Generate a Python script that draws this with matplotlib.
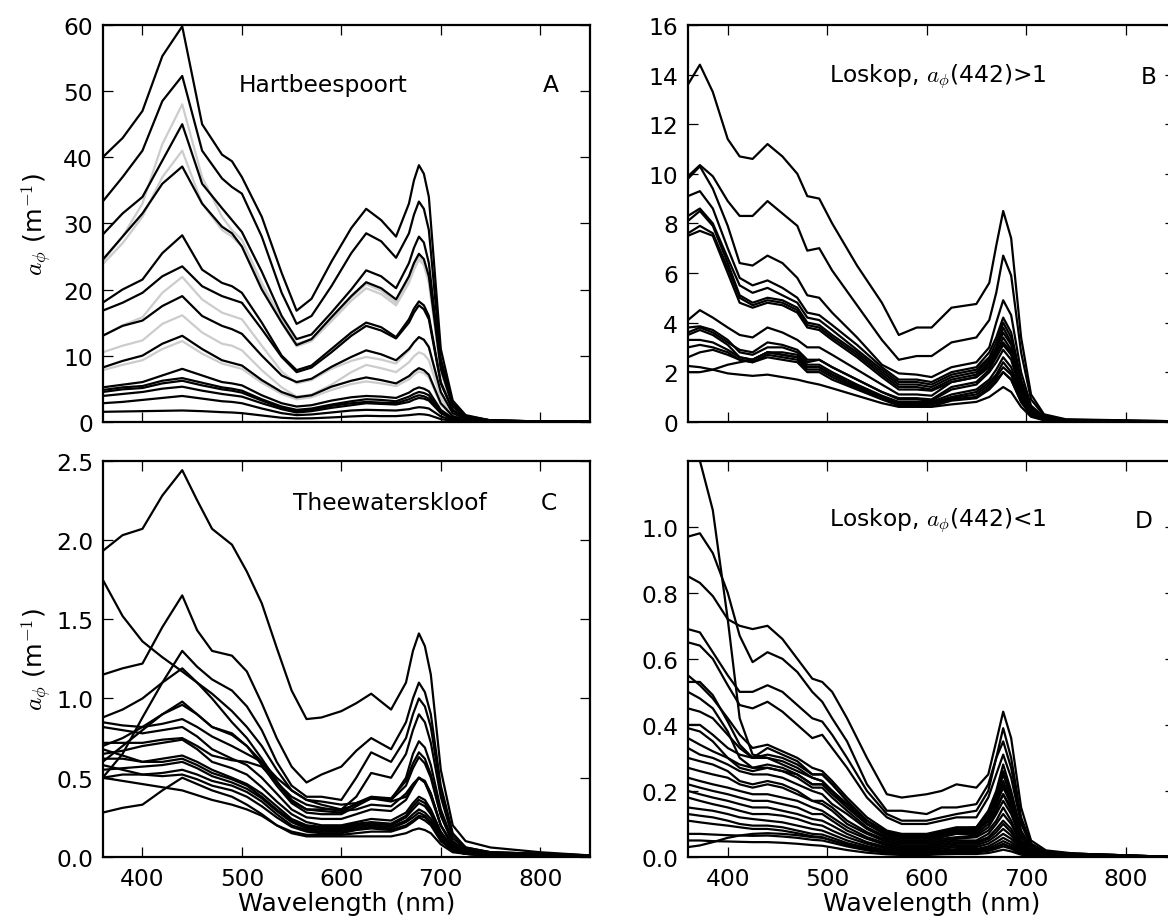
import matplotlib
matplotlib.use('Agg')
from matplotlib import pyplot as plt

# ---- panel A: Hartbeespoort ----
wl_a = [360, 380, 400, 420, 440, 460, 480, 490, 500, 520, 540, 555, 570, 590,
        610, 625, 640, 655, 668, 673, 678, 683, 688, 700, 712, 725, 750, 800, 850]

hb1 = [40, 42.9, 47, 55.3, 59.8, 45, 40.4, 39.4, 37, 31, 22.5, 16.8, 18.6, 24.2, 29.3, 32.2, 30.5, 28, 33, 36.5, 38.8, 37.5, 34, 11, 3.2, 1.0, 0.2, 0.05, 0]
hb2 = [33.3, 37, 41, 48.5, 52.3, 41, 36.8, 35.5, 34.5, 28, 19.5, 14.8, 16, 20.5, 25.5, 28.5, 27.3, 24.8, 28.5, 31.3, 33.3, 32.2, 29, 9.5, 2.8, 0.9, 0.2, 0.05, 0]
hb3 = [28.3, 31.5, 34, 39.5, 45, 36, 32.3, 30.5, 28.7, 22.7, 16, 12.5, 13.2, 16.5, 20, 22.9, 22, 20.2, 24, 26.3, 28, 27.1, 24, 8.5, 2.5, 0.8, 0.2, 0.05, 0]
hb4 = [24.5, 28, 31.5, 36, 38.6, 33, 29.5, 28.5, 26.5, 20, 15, 11.6, 12.5, 15.8, 19, 21.1, 20.2, 18.5, 22, 24, 25.4, 24.6, 22, 8, 2.3, 0.7, 0.2, 0.05, 0]
hb5 = [18, 20, 21.5, 25.5, 28.2, 23, 21, 20.5, 19.5, 15, 10, 7.8, 8.5, 11, 13.5, 15, 14.3, 12.8, 15.5, 17.1, 18.2, 17.6, 16, 6, 1.8, 0.6, 0.15, 0.04, 0]
hb6 = [16.8, 18, 19.5, 22, 23.5, 20.5, 19, 18.5, 18, 14, 9.8, 7.5, 8.2, 10.5, 13, 14.5, 13.8, 12.6, 15, 16.5, 17.6, 17, 15.5, 5.8, 1.7, 0.55, 0.15, 0.04, 0]
hb7 = [13, 14.5, 15.3, 17.5, 19, 16, 14.5, 14, 13.3, 10, 7, 6, 6.5, 8.3, 9.8, 10.8, 10.2, 9.3, 11, 12, 12.8, 12.4, 11.3, 4.5, 1.3, 0.45, 0.1, 0.03, 0]
hb8 = [8.2, 9.2, 10, 11.8, 13, 11, 9.3, 8.9, 8.5, 6.3, 4.5, 3.7, 4, 5.3, 6.2, 6.7, 6.3, 5.8, 6.9, 7.6, 8.1, 7.8, 7.1, 2.8, 0.85, 0.3, 0.08, 0.02, 0]
hb9 = [5.2, 5.6, 6, 7, 8, 7, 6, 5.8, 5.5, 4, 2.8, 2.3, 2.5, 3.2, 3.7, 3.9, 3.8, 3.6, 4.4, 4.9, 5.2, 5.0, 4.6, 1.8, 0.55, 0.2, 0.05, 0.02, 0]
hb10 = [4.8, 5.2, 5.4, 6.2, 6.6, 5.9, 5.2, 5, 4.7, 3.4, 2.3, 1.8, 2, 2.6, 3.1, 3.4, 3.3, 3.1, 3.8, 4.2, 4.5, 4.35, 4, 1.6, 0.5, 0.2, 0.05, 0.02, 0]
hb11 = [4.5, 4.9, 5.1, 5.8, 6.2, 5.5, 4.9, 4.7, 4.4, 3.2, 2.1, 1.6, 1.8, 2.4, 2.8, 3, 2.9, 2.8, 3.4, 3.75, 4, 3.85, 3.5, 1.4, 0.45, 0.15, 0.04, 0.01, 0]
hb12 = [3.9, 4.2, 4.5, 5, 5.3, 4.7, 4.2, 4, 3.8, 2.8, 1.9, 1.4, 1.6, 2.1, 2.5, 2.8, 2.7, 2.6, 3, 3.35, 3.6, 3.5, 3.2, 1.3, 0.4, 0.14, 0.04, 0.01, 0]
hb13 = [2.8, 3, 3.3, 3.6, 3.9, 3.5, 3.1, 3, 2.8, 2, 1.3, 1, 1.1, 1.4, 1.7, 1.8, 1.75, 1.7, 1.9, 2.08, 2.2, 2.14, 2, 0.8, 0.25, 0.1, 0.03, 0.01, 0]
hb14 = [1.5, 1.55, 1.6, 1.65, 1.7, 1.6, 1.45, 1.4, 1.3, 0.95, 0.6, 0.5, 0.52, 0.65, 0.8, 0.9, 0.85, 0.85, 1, 1.08, 1.15, 1.11, 1, 0.4, 0.12, 0.05, 0.02, 0.01, 0]

# grey spectra (second set)
hg1 = [24.2, 28, 33, 42, 48, 37, 31, 29, 27.5, 21, 15.5, 11.8, 12.5, 15.5, 18.8, 20.8, 19.8, 18, 21.5, 23.5, 25, 24.2, 21.5, 7.8, 2.2, 0.7, 0.2, 0.05, 0]
hg2 = [23.8, 27, 31, 37, 41, 33, 29, 28, 26.5, 20.5, 15, 11.4, 12.2, 15.2, 18.3, 20.2, 19.3, 17.6, 21, 23, 24.5, 23.7, 21, 7.6, 2.2, 0.7, 0.2, 0.05, 0]
hg3 = [13, 14.6, 15.8, 19.5, 21.9, 18.5, 16.5, 16, 15.5, 11.5, 7.6, 5.8, 6.3, 8, 9.2, 9.8, 9.4, 8.8, 10.8, 12, 12.8, 12.4, 11.2, 4.4, 1.3, 0.45, 0.1, 0.03, 0]
hg4 = [10.5, 11.5, 12.3, 14.8, 16.1, 13.5, 11.8, 11.5, 10.8, 7.8, 5.2, 3.8, 4.1, 5.6, 7.5, 8.6, 8.1, 7.5, 9, 9.9, 10.5, 10.2, 9.3, 3.6, 1.1, 0.4, 0.1, 0.03, 0]
hg5 = [7.8, 8.6, 9.3, 11, 12.2, 10.3, 8.8, 8.4, 8, 5.9, 4.2, 3.4, 3.7, 4.8, 5.7, 6.1, 5.8, 5.4, 6.4, 7.1, 7.6, 7.35, 6.7, 2.6, 0.8, 0.28, 0.07, 0.02, 0]

# ---- panel B: Loskop, a(442) > 1 ----
wl_b = [360, 372, 385, 400, 412, 425, 440, 455, 470, 480, 492, 505, 530, 555,
        572, 590, 605, 625, 650, 663, 670, 677, 685, 695, 705, 718, 740, 850]

lb1 = [13.6, 14.4, 13.3, 11.4, 10.7, 10.6, 11.2, 10.7, 10.0, 9.1, 9.0, 8.0, 6.3, 4.8, 3.5, 3.8, 3.8, 4.6, 4.75, 5.6, 7.1, 8.5, 7.4, 3.4, 1.1, 0.3, 0.1, 0.02]
lb2 = [9.9, 10.35, 9.9, 8.9, 8.3, 8.3, 8.9, 8.4, 7.9, 6.9, 7.0, 6.1, 4.7, 3.3, 2.5, 2.65, 2.65, 3.2, 3.4, 4.1, 5.2, 6.7, 5.9, 2.8, 0.9, 0.25, 0.08, 0.02]
lb3 = [9.8, 10.3, 9.4, 7.9, 6.4, 6.3, 6.7, 6.4, 5.8, 5.1, 5.0, 4.4, 3.4, 2.3, 1.95, 1.9, 1.8, 2.2, 2.4, 3.0, 4.0, 4.9, 4.3, 2.0, 0.65, 0.2, 0.06, 0.01]
lb4 = [9.1, 9.3, 8.6, 7.0, 5.8, 5.5, 5.7, 5.4, 5.0, 4.4, 4.3, 3.9, 3.1, 2.2, 1.7, 1.7, 1.6, 2.0, 2.2, 2.8, 3.4, 4.2, 3.6, 1.7, 0.55, 0.15, 0.05, 0.01]
lb5 = [8.3, 8.6, 8.0, 6.6, 5.5, 5.2, 5.4, 5.1, 4.8, 4.2, 4.1, 3.7, 2.9, 2.1, 1.6, 1.6, 1.5, 1.9, 2.1, 2.6, 3.2, 4.0, 3.4, 1.6, 0.5, 0.15, 0.05, 0.01]
lb6 = [8.1, 8.5, 7.9, 6.4, 5.1, 4.8, 5.0, 4.9, 4.6, 4.0, 3.9, 3.5, 2.8, 2.0, 1.5, 1.5, 1.4, 1.8, 2.0, 2.5, 3.0, 3.8, 3.2, 1.5, 0.48, 0.14, 0.05, 0.01]
lb7 = [7.6, 7.9, 7.6, 6.2, 5.0, 4.7, 4.9, 4.8, 4.5, 3.9, 3.8, 3.4, 2.7, 1.9, 1.4, 1.4, 1.3, 1.7, 1.9, 2.4, 2.9, 3.6, 3.1, 1.4, 0.45, 0.13, 0.04, 0.01]
lb8 = [7.5, 7.7, 7.5, 6.0, 4.8, 4.6, 4.8, 4.7, 4.4, 3.8, 3.7, 3.3, 2.6, 1.8, 1.3, 1.3, 1.25, 1.6, 1.8, 2.2, 2.7, 3.4, 2.9, 1.3, 0.42, 0.12, 0.04, 0.01]
lb9 = [4.1, 4.5, 4.2, 3.8, 3.5, 3.4, 3.8, 3.6, 3.3, 3.0, 3.0, 2.7, 2.1, 1.5, 1.1, 1.1, 1.05, 1.6, 1.8, 2.3, 2.8, 3.2, 2.8, 1.3, 0.42, 0.12, 0.04, 0.01]
lb10 = [3.8, 3.85, 3.7, 3.3, 2.8, 2.7, 3.0, 3.0, 2.8, 2.4, 2.5, 2.2, 1.7, 1.2, 0.9, 0.9, 0.85, 1.3, 1.5, 2.0, 2.4, 2.9, 2.5, 1.2, 0.38, 0.1, 0.03, 0.01]
lb11 = [3.6, 3.8, 3.6, 3.2, 2.9, 2.8, 3.2, 3.1, 2.9, 2.5, 2.5, 2.2, 1.7, 1.2, 0.95, 0.95, 0.9, 1.4, 1.6, 2.1, 2.6, 3.1, 2.7, 1.3, 0.4, 0.1, 0.03, 0.01]
lb12 = [3.5, 3.7, 3.5, 3.1, 2.6, 2.5, 2.8, 2.8, 2.7, 2.3, 2.3, 2.0, 1.5, 1.05, 0.8, 0.8, 0.8, 1.1, 1.3, 1.7, 2.1, 2.6, 2.2, 1.1, 0.35, 0.1, 0.03, 0.01]
lb13 = [3.3, 3.3, 3.2, 2.9, 2.6, 2.5, 2.8, 2.7, 2.6, 2.2, 2.2, 1.9, 1.45, 1.0, 0.75, 0.75, 0.75, 1.0, 1.2, 1.6, 1.9, 2.4, 2.0, 1.0, 0.3, 0.09, 0.03, 0.01]
lb14 = [3.0, 3.1, 3.0, 2.8, 2.5, 2.4, 2.7, 2.6, 2.5, 2.1, 2.1, 1.8, 1.35, 0.95, 0.7, 0.7, 0.7, 0.95, 1.1, 1.5, 1.8, 2.2, 1.9, 0.9, 0.28, 0.08, 0.03, 0.01]
lb15 = [2.6, 2.8, 2.9, 2.7, 2.5, 2.4, 2.6, 2.5, 2.4, 2.0, 2.0, 1.7, 1.3, 0.9, 0.65, 0.65, 0.62, 0.85, 0.95, 1.3, 1.6, 2.0, 1.7, 0.8, 0.25, 0.07, 0.02, 0.01]
lb16 = [2.25, 2.2, 2.1, 1.95, 1.9, 1.85, 1.9, 1.8, 1.7, 1.6, 1.5, 1.35, 1.05, 0.75, 0.6, 0.6, 0.6, 0.7, 0.8, 1.0, 1.2, 1.4, 1.2, 0.6, 0.2, 0.06, 0.02, 0.01]
lb17 = [2.0, 2.0, 2.1, 2.3, 2.4, 2.5, 2.8, 2.7, 2.6, 2.2, 2.2, 1.9, 1.4, 1.0, 0.7, 0.7, 0.7, 0.9, 1.0, 1.4, 1.7, 2.0, 1.7, 0.8, 0.25, 0.07, 0.02, 0.01]

# ---- panel C: Theewaterskloof ----
wl_c = [360, 380, 400, 420, 440, 455, 470, 490, 505, 520, 535, 550, 565, 580,
        600, 615, 630, 650, 665, 672, 678, 684, 690, 700, 712, 725, 750, 800, 850]

tw1 = [1.93, 2.03, 2.07, 2.28, 2.44, 2.25, 2.07, 1.97, 1.8, 1.6, 1.32, 1.05, 0.87, 0.88, 0.92, 0.97, 1.03, 0.93, 1.1, 1.3, 1.41, 1.33, 1.15, 0.55, 0.2, 0.1, 0.06, 0.03, 0.01]
tw2 = [1.15, 1.19, 1.22, 1.45, 1.65, 1.43, 1.3, 1.27, 1.17, 0.97, 0.75, 0.57, 0.47, 0.52, 0.57, 0.67, 0.75, 0.68, 0.85, 1.0, 1.1, 1.04, 0.9, 0.45, 0.15, 0.06, 0.03, 0.02, 0.01]
tw3 = [1.75, 1.52, 1.36, 1.26, 1.17, 1.1, 1.03, 0.92, 0.82, 0.7, 0.55, 0.42, 0.36, 0.35, 0.33, 0.34, 0.37, 0.35, 0.38, 0.45, 0.5, 0.47, 0.38, 0.2, 0.08, 0.04, 0.02, 0.01, 0.0]
tw4 = [0.5, 0.65, 0.88, 1.1, 1.3, 1.2, 1.12, 1.05, 0.95, 0.8, 0.6, 0.45, 0.38, 0.38, 0.36, 0.5, 0.66, 0.6, 0.75, 0.9, 1.0, 0.95, 0.82, 0.42, 0.14, 0.06, 0.03, 0.02, 0.01]
tw5 = [0.88, 0.93, 1.0, 1.1, 1.19, 1.1, 1.0, 0.85, 0.75, 0.62, 0.48, 0.35, 0.3, 0.3, 0.3, 0.38, 0.53, 0.5, 0.65, 0.8, 0.9, 0.85, 0.72, 0.38, 0.12, 0.05, 0.03, 0.02, 0.01]
tw6 = [0.6, 0.7, 0.8, 0.9, 0.98, 0.9, 0.82, 0.77, 0.7, 0.58, 0.45, 0.34, 0.28, 0.27, 0.27, 0.32, 0.37, 0.36, 0.5, 0.65, 0.73, 0.69, 0.58, 0.3, 0.1, 0.04, 0.02, 0.01, 0.0]
tw7 = [0.7, 0.75, 0.82, 0.9, 0.96, 0.9, 0.82, 0.78, 0.7, 0.6, 0.47, 0.36, 0.3, 0.29, 0.28, 0.34, 0.38, 0.37, 0.48, 0.59, 0.66, 0.62, 0.52, 0.27, 0.09, 0.04, 0.02, 0.01, 0.0]
tw8 = [0.85, 0.83, 0.82, 0.84, 0.87, 0.82, 0.76, 0.7, 0.65, 0.6, 0.5, 0.42, 0.36, 0.33, 0.3, 0.33, 0.37, 0.36, 0.45, 0.56, 0.63, 0.59, 0.5, 0.26, 0.09, 0.04, 0.02, 0.01, 0.0]
tw9 = [0.72, 0.72, 0.72, 0.74, 0.75, 0.7, 0.64, 0.61, 0.6, 0.57, 0.47, 0.38, 0.33, 0.31, 0.29, 0.3, 0.33, 0.32, 0.4, 0.46, 0.5, 0.48, 0.4, 0.2, 0.07, 0.03, 0.02, 0.01, 0.0]
tw10 = [0.65, 0.67, 0.7, 0.72, 0.74, 0.68, 0.6, 0.56, 0.52, 0.44, 0.35, 0.27, 0.22, 0.2, 0.2, 0.22, 0.24, 0.23, 0.28, 0.34, 0.38, 0.36, 0.3, 0.16, 0.06, 0.03, 0.02, 0.01, 0.0]
tw11 = [0.62, 0.62, 0.6, 0.62, 0.64, 0.6, 0.55, 0.5, 0.46, 0.4, 0.32, 0.24, 0.2, 0.19, 0.19, 0.21, 0.22, 0.21, 0.26, 0.32, 0.36, 0.34, 0.28, 0.15, 0.05, 0.03, 0.02, 0.01, 0.0]
tw12 = [0.68, 0.64, 0.6, 0.6, 0.62, 0.58, 0.53, 0.49, 0.45, 0.38, 0.3, 0.23, 0.19, 0.18, 0.18, 0.2, 0.21, 0.2, 0.25, 0.3, 0.34, 0.32, 0.27, 0.14, 0.05, 0.03, 0.02, 0.01, 0.0]
tw13 = [0.55, 0.56, 0.57, 0.58, 0.6, 0.56, 0.51, 0.47, 0.43, 0.37, 0.29, 0.22, 0.18, 0.17, 0.17, 0.19, 0.2, 0.19, 0.23, 0.27, 0.3, 0.28, 0.24, 0.13, 0.05, 0.02, 0.01, 0.01, 0.0]
tw14 = [0.5, 0.52, 0.52, 0.53, 0.55, 0.52, 0.48, 0.45, 0.41, 0.35, 0.27, 0.2, 0.17, 0.16, 0.16, 0.18, 0.19, 0.18, 0.22, 0.25, 0.28, 0.26, 0.22, 0.12, 0.04, 0.02, 0.01, 0.01, 0.0]
tw15 = [0.58, 0.55, 0.52, 0.51, 0.52, 0.49, 0.45, 0.42, 0.38, 0.32, 0.25, 0.19, 0.16, 0.15, 0.15, 0.17, 0.18, 0.17, 0.2, 0.23, 0.26, 0.25, 0.21, 0.11, 0.04, 0.02, 0.01, 0.01, 0.0]
tw16 = [0.28, 0.31, 0.33, 0.42, 0.5, 0.46, 0.42, 0.38, 0.33, 0.27, 0.2, 0.15, 0.13, 0.13, 0.13, 0.13, 0.13, 0.13, 0.15, 0.17, 0.18, 0.17, 0.15, 0.08, 0.03, 0.02, 0.01, 0.01, 0.0]
tw17 = [0.5, 0.48, 0.46, 0.44, 0.42, 0.39, 0.36, 0.33, 0.3, 0.26, 0.2, 0.16, 0.14, 0.14, 0.14, 0.15, 0.16, 0.16, 0.19, 0.22, 0.25, 0.23, 0.2, 0.1, 0.04, 0.02, 0.01, 0.01, 0.0]
tw18 = [0.82, 0.8, 0.78, 0.8, 0.82, 0.76, 0.68, 0.62, 0.58, 0.5, 0.4, 0.3, 0.25, 0.24, 0.24, 0.27, 0.3, 0.29, 0.36, 0.44, 0.5, 0.47, 0.4, 0.2, 0.07, 0.03, 0.02, 0.01, 0.0]

# ---- panel D: Loskop, a(442) < 1 ----
wl_d = [360, 372, 385, 400, 412, 425, 440, 455, 470, 485, 495, 505, 520, 540, 560,
        575, 600, 615, 630, 650, 662, 670, 677, 685, 695, 705, 720, 750, 800, 850]

lk1 = [1.22, 1.2, 1.05, 0.72, 0.42, 0.31, 0.3, 0.28, 0.26, 0.24, 0.23, 0.2, 0.16, 0.11, 0.07, 0.06, 0.06, 0.07, 0.08, 0.08, 0.11, 0.15, 0.19, 0.15, 0.07, 0.02, 0.01, 0.005, 0.0, 0.0]
lk2 = [0.97, 0.98, 0.92, 0.8, 0.67, 0.59, 0.62, 0.6, 0.56, 0.5, 0.47, 0.42, 0.35, 0.22, 0.14, 0.14, 0.13, 0.15, 0.15, 0.16, 0.22, 0.3, 0.39, 0.3, 0.12, 0.04, 0.015, 0.01, 0.005, 0.0]
lk3 = [0.85, 0.83, 0.79, 0.72, 0.7, 0.69, 0.7, 0.66, 0.6, 0.54, 0.53, 0.5, 0.42, 0.3, 0.19, 0.18, 0.19, 0.2, 0.22, 0.21, 0.25, 0.35, 0.44, 0.36, 0.15, 0.05, 0.02, 0.01, 0.005, 0.0]
lk4 = [0.69, 0.68, 0.62, 0.55, 0.5, 0.5, 0.52, 0.5, 0.46, 0.42, 0.41, 0.37, 0.3, 0.2, 0.13, 0.11, 0.11, 0.12, 0.13, 0.14, 0.2, 0.3, 0.35, 0.27, 0.11, 0.04, 0.015, 0.01, 0.005, 0.0]
lk5 = [0.65, 0.64, 0.6, 0.52, 0.46, 0.45, 0.47, 0.44, 0.4, 0.36, 0.37, 0.33, 0.27, 0.18, 0.12, 0.1, 0.1, 0.11, 0.12, 0.12, 0.18, 0.25, 0.31, 0.24, 0.1, 0.035, 0.015, 0.01, 0.005, 0.0]
lk6 = [0.55, 0.52, 0.48, 0.42, 0.37, 0.33, 0.34, 0.32, 0.3, 0.27, 0.26, 0.23, 0.18, 0.12, 0.08, 0.07, 0.07, 0.08, 0.09, 0.09, 0.14, 0.2, 0.28, 0.2, 0.08, 0.03, 0.01, 0.008, 0.004, 0.0]
lk7 = [0.53, 0.53, 0.49, 0.41, 0.34, 0.3, 0.31, 0.3, 0.28, 0.25, 0.25, 0.22, 0.17, 0.11, 0.075, 0.065, 0.065, 0.075, 0.085, 0.085, 0.13, 0.19, 0.26, 0.19, 0.075, 0.028, 0.01, 0.008, 0.004, 0.0]
lk8 = [0.5, 0.48, 0.45, 0.38, 0.3, 0.27, 0.27, 0.26, 0.25, 0.22, 0.22, 0.2, 0.15, 0.1, 0.07, 0.06, 0.06, 0.07, 0.08, 0.08, 0.12, 0.17, 0.23, 0.17, 0.07, 0.025, 0.01, 0.007, 0.003, 0.0]
lk9 = [0.4, 0.4, 0.37, 0.33, 0.31, 0.3, 0.33, 0.31, 0.29, 0.25, 0.25, 0.22, 0.17, 0.11, 0.075, 0.065, 0.065, 0.075, 0.085, 0.09, 0.13, 0.18, 0.25, 0.18, 0.07, 0.027, 0.01, 0.007, 0.003, 0.0]
lk10 = [0.39, 0.38, 0.35, 0.3, 0.28, 0.27, 0.28, 0.27, 0.25, 0.22, 0.22, 0.19, 0.15, 0.1, 0.065, 0.055, 0.055, 0.065, 0.075, 0.075, 0.11, 0.16, 0.21, 0.16, 0.065, 0.024, 0.01, 0.006, 0.003, 0.0]
lk11 = [0.36, 0.34, 0.32, 0.3, 0.27, 0.26, 0.27, 0.26, 0.24, 0.21, 0.21, 0.18, 0.14, 0.09, 0.06, 0.05, 0.05, 0.06, 0.07, 0.07, 0.1, 0.14, 0.19, 0.14, 0.06, 0.022, 0.01, 0.006, 0.003, 0.0]
lk12 = [0.33, 0.31, 0.3, 0.28, 0.26, 0.25, 0.25, 0.24, 0.22, 0.2, 0.19, 0.16, 0.13, 0.085, 0.055, 0.045, 0.045, 0.055, 0.06, 0.065, 0.09, 0.13, 0.17, 0.13, 0.05, 0.02, 0.008, 0.005, 0.003, 0.0]
lk13 = [0.3, 0.29, 0.28, 0.26, 0.23, 0.22, 0.23, 0.22, 0.2, 0.17, 0.17, 0.15, 0.11, 0.075, 0.05, 0.04, 0.04, 0.05, 0.055, 0.06, 0.08, 0.11, 0.15, 0.11, 0.045, 0.017, 0.007, 0.005, 0.002, 0.0]
lk14 = [0.27, 0.26, 0.25, 0.24, 0.22, 0.21, 0.22, 0.21, 0.19, 0.17, 0.16, 0.14, 0.1, 0.07, 0.045, 0.035, 0.035, 0.045, 0.05, 0.05, 0.07, 0.1, 0.13, 0.1, 0.04, 0.015, 0.007, 0.004, 0.002, 0.0]
lk15 = [0.24, 0.23, 0.22, 0.21, 0.2, 0.19, 0.19, 0.18, 0.17, 0.15, 0.14, 0.12, 0.09, 0.06, 0.04, 0.03, 0.03, 0.04, 0.045, 0.045, 0.06, 0.085, 0.11, 0.085, 0.035, 0.013, 0.006, 0.004, 0.002, 0.0]
lk16 = [0.22, 0.21, 0.2, 0.19, 0.18, 0.17, 0.17, 0.16, 0.15, 0.13, 0.13, 0.11, 0.08, 0.055, 0.035, 0.028, 0.028, 0.035, 0.04, 0.04, 0.055, 0.075, 0.1, 0.075, 0.03, 0.012, 0.005, 0.003, 0.002, 0.0]
lk17 = [0.2, 0.19, 0.18, 0.17, 0.16, 0.15, 0.15, 0.14, 0.13, 0.115, 0.11, 0.095, 0.07, 0.045, 0.03, 0.024, 0.024, 0.03, 0.035, 0.035, 0.048, 0.065, 0.085, 0.065, 0.027, 0.01, 0.005, 0.003, 0.001, 0.0]
lk18 = [0.18, 0.17, 0.16, 0.15, 0.14, 0.13, 0.13, 0.125, 0.115, 0.1, 0.095, 0.08, 0.06, 0.04, 0.025, 0.02, 0.02, 0.025, 0.03, 0.03, 0.04, 0.055, 0.07, 0.055, 0.022, 0.008, 0.004, 0.002, 0.001, 0.0]
lk19 = [0.15, 0.145, 0.14, 0.13, 0.12, 0.115, 0.11, 0.105, 0.095, 0.085, 0.08, 0.068, 0.05, 0.033, 0.02, 0.016, 0.016, 0.02, 0.024, 0.024, 0.032, 0.045, 0.058, 0.045, 0.018, 0.007, 0.003, 0.002, 0.001, 0.0]
lk20 = [0.13, 0.125, 0.12, 0.11, 0.1, 0.095, 0.095, 0.09, 0.08, 0.07, 0.068, 0.058, 0.042, 0.028, 0.017, 0.013, 0.013, 0.017, 0.02, 0.02, 0.027, 0.037, 0.048, 0.037, 0.015, 0.006, 0.003, 0.002, 0.001, 0.0]
lk21 = [0.11, 0.105, 0.1, 0.095, 0.09, 0.085, 0.085, 0.08, 0.072, 0.063, 0.06, 0.05, 0.036, 0.023, 0.014, 0.011, 0.011, 0.014, 0.016, 0.016, 0.022, 0.03, 0.038, 0.03, 0.012, 0.005, 0.002, 0.001, 0.001, 0.0]
lk22 = [0.07, 0.07, 0.068, 0.066, 0.065, 0.064, 0.065, 0.062, 0.058, 0.052, 0.05, 0.043, 0.032, 0.02, 0.012, 0.01, 0.01, 0.012, 0.014, 0.014, 0.018, 0.025, 0.032, 0.025, 0.01, 0.004, 0.002, 0.001, 0.001, 0.0]
lk23 = [0.03, 0.035, 0.045, 0.058, 0.065, 0.07, 0.072, 0.07, 0.066, 0.06, 0.058, 0.05, 0.038, 0.025, 0.015, 0.012, 0.012, 0.015, 0.017, 0.017, 0.022, 0.03, 0.04, 0.03, 0.012, 0.005, 0.002, 0.001, 0.001, 0.0]
lk24 = [0.05, 0.05, 0.048, 0.047, 0.046, 0.045, 0.045, 0.043, 0.04, 0.036, 0.034, 0.029, 0.021, 0.013, 0.008, 0.006, 0.006, 0.008, 0.009, 0.009, 0.012, 0.017, 0.022, 0.017, 0.007, 0.003, 0.001, 0.001, 0.0, 0.0]
lk25 = [0.45, 0.44, 0.42, 0.37, 0.33, 0.3, 0.3, 0.29, 0.27, 0.24, 0.23, 0.2, 0.16, 0.1, 0.07, 0.06, 0.06, 0.07, 0.08, 0.08, 0.11, 0.16, 0.22, 0.16, 0.065, 0.025, 0.01, 0.006, 0.003, 0.0]

hart_black = [hb1, hb2, hb3, hb4, hb5, hb6, hb7, hb8, hb9, hb10, hb11, hb12, hb13, hb14]
hart_grey = [hg1, hg2, hg3, hg4, hg5]
loskop_hi = [lb1, lb2, lb3, lb4, lb5, lb6, lb7, lb8, lb9, lb10, lb11, lb12, lb13, lb14, lb15, lb16, lb17]
theewaters = [tw1, tw2, tw3, tw4, tw5, tw6, tw7, tw8, tw9, tw10, tw11, tw12, tw13, tw14, tw15, tw16, tw17, tw18]
loskop_lo = [lk1, lk2, lk3, lk4, lk5, lk6, lk7, lk8, lk9, lk10, lk11, lk12, lk13,
             lk14, lk15, lk16, lk17, lk18, lk19, lk20, lk21, lk22, lk23, lk24, lk25]

plt.rcParams['font.family'] = 'DejaVu Sans'
plt.rcParams['mathtext.fontset'] = 'cm'
plt.rcParams['font.size'] = 16.8

fig = plt.figure(figsize=(11.68, 9.2), dpi=100)
# right-hand panels run past the figure edge, as in the original
axA = fig.add_axes([0.0879, 0.5405, 0.4172, 0.4312])
axB = fig.add_axes([0.5890, 0.5405, 0.4172, 0.4312])
axC = fig.add_axes([0.0879, 0.0674, 0.4172, 0.4308])
axD = fig.add_axes([0.5890, 0.0674, 0.4172, 0.4308])

LW = 1.6
LABEL_SIZE = 18.2
ylab = r'$a_\phi$ (m$^{-1}$)'


def style(ax, ymax, yticks, bottom):
    ax.set_xlim(360, 850)
    ax.set_ylim(0, ymax)
    ax.set_xticks([400, 500, 600, 700, 800])
    ax.set_yticks(yticks)
    ax.tick_params(direction='in', top=True, right=True, length=7, width=0.9,
                   labelsize=16.8, pad=7)
    if bottom:
        ax.set_xlabel('Wavelength (nm)', fontsize=LABEL_SIZE, labelpad=1)
    else:
        ax.set_xticklabels([])
    for s in ax.spines.values():
        s.set_linewidth(1.6)


for y in hart_grey:
    axA.plot(wl_a, y, color='0.8', lw=LW)
for y in hart_black:
    axA.plot(wl_a, y, color='k', lw=LW)
style(axA, 60, [0, 10, 20, 30, 40, 50, 60], False)
axA.set_ylabel(ylab, fontsize=LABEL_SIZE)
axA.yaxis.set_label_coords(-0.1, 0.5)
axA.text(0.28, 0.85, 'Hartbeespoort', transform=axA.transAxes, va='center')
axA.text(0.92, 0.85, 'A', transform=axA.transAxes, va='center', ha='center')

for y in loskop_hi:
    axB.plot(wl_b, y, color='k', lw=LW)
style(axB, 16, [0, 2, 4, 6, 8, 10, 12, 14, 16], False)
axB.text(0.29, 0.87, r'Loskop, $a_\phi$(442)>1', transform=axB.transAxes, va='center')
axB.text(0.945, 0.87, 'B', transform=axB.transAxes, va='center', ha='center')

for y in theewaters:
    axC.plot(wl_c, y, color='k', lw=LW)
style(axC, 2.5, [0.0, 0.5, 1.0, 1.5, 2.0, 2.5], True)
axC.set_ylabel(ylab, fontsize=LABEL_SIZE)
axC.yaxis.set_label_coords(-0.1, 0.5)
axC.text(0.39, 0.895, 'Theewaterskloof', transform=axC.transAxes, va='center')
axC.text(0.915, 0.895, 'C', transform=axC.transAxes, va='center', ha='center')

for y in loskop_lo:
    axD.plot(wl_d, y, color='k', lw=LW)
style(axD, 1.2, [0.0, 0.2, 0.4, 0.6, 0.8, 1.0], True)
axD.text(0.29, 0.85, r'Loskop, $a_\phi$(442)<1', transform=axD.transAxes, va='center')
axD.text(0.935, 0.85, 'D', transform=axD.transAxes, va='center', ha='center')

fig.savefig('out.png', dpi=100)
